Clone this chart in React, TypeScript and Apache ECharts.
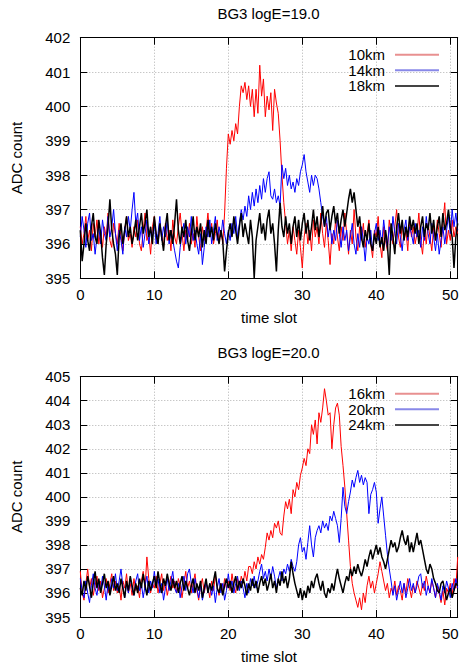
import React, { useEffect, useRef } from "react";
import * as echarts from "echarts";

// time step between samples (time slots)
const STEP = 0.25;
const TITLES = ["BG3 logE=19.0", "BG3 logE=20.0"];
const NAMES_TOP = ["10km", "14km", "18km"];
const NAMES_BOTTOM = ["16km", "20km", "24km"];

// ---------- logE = 19.0 ----------
const top10km = [
  396.5, 396.0, 396.3, 396.8, 396.1, 396.4, 395.8, 396.6, 396.2, 396.7, 396.0, 396.4, 395.9, 396.5, 396.2, 396.9, 396.1, 395.9, 396.6, 396.3,
  396.0, 396.6, 396.2, 395.8, 396.4, 396.8, 396.1, 396.3, 395.9, 396.5, 396.2, 396.7, 396.0, 395.8, 396.4, 396.9, 396.1, 396.3, 395.7, 396.5,
  396.8, 396.2, 396.0, 396.5, 396.3, 395.9, 396.6, 396.1, 396.4, 395.8, 396.7, 396.2, 396.0, 396.5, 396.9, 396.3, 395.8, 396.4, 396.1, 396.6,
  396.0, 396.3, 395.9, 396.8, 396.2, 395.8, 396.5, 396.1, 396.4, 396.9, 396.2, 396.6, 396.0, 396.3, 396.7, 396.1, 396.4, 396.0, 396.9, 398.2,
  399.2, 398.9, 399.3, 399.0, 399.5, 399.2, 400.0, 400.6, 400.4, 400.7, 400.2, 400.6, 400.0, 400.5, 399.7, 400.5, 399.8, 401.2, 400.3, 400.8,
  399.7, 400.3, 399.9, 400.4, 399.3, 400.5, 400.1, 399.8, 399.0, 398.0, 397.2, 396.6, 396.0, 396.4, 395.8, 396.5, 396.1, 395.7, 396.4, 395.9,
  395.3, 396.2, 396.6, 396.0, 396.4, 395.8, 396.7, 396.2, 396.5, 396.0, 396.9, 396.3, 395.9, 396.6, 396.1, 395.4, 396.3, 396.0, 396.7, 396.2,
  395.8, 396.5, 396.1, 396.9, 396.3, 395.7, 396.4, 396.0, 397.0, 396.2, 395.8, 396.5, 396.1, 396.6, 395.9, 396.3, 396.7, 396.0, 395.6, 396.4,
  396.2, 396.8, 396.0, 395.6, 396.5, 396.1, 395.8, 396.7, 396.3, 396.0, 396.5, 397.0, 396.2, 395.9, 396.6, 396.1, 396.4, 395.8, 396.7, 396.2,
  396.5, 396.0, 396.3, 396.9, 396.1, 395.7, 396.4, 396.0, 396.6, 396.2, 395.8, 396.5, 396.1, 396.7, 396.3, 395.9, 396.6, 397.2, 396.0, 396.4,
  396.1, 396.7, 396.2, 396.5, 396.3,
];
const top14km = [
  396.2, 396.8, 396.4, 395.9, 396.6, 396.9, 396.1, 396.3, 395.7, 396.2, 396.5, 396.0, 396.7, 396.3, 396.1, 396.8, 396.2, 396.5, 397.0, 396.3,
  395.8, 396.4, 396.1, 395.7, 396.5, 396.2, 396.8, 396.4, 397.0, 397.5, 396.6, 396.9, 396.1, 396.5, 395.9, 396.3, 396.7, 396.0, 396.4, 396.2,
  396.6, 396.0, 396.3, 396.8, 396.1, 396.5, 396.2, 396.7, 396.0, 396.4, 396.1, 395.8, 395.5, 395.3, 395.9, 396.3, 396.6, 396.0, 396.5, 396.2,
  396.8, 396.1, 396.4, 396.0, 395.7, 396.3, 395.4, 395.9, 396.5, 396.2, 396.7, 396.0, 396.4, 396.8, 396.1, 396.5, 396.2, 396.7, 396.3, 396.0,
  396.4, 396.1, 396.6, 396.3, 396.8, 396.2, 396.6, 397.0, 396.7, 397.1, 396.8, 397.4, 397.0, 397.5, 397.1, 397.6, 397.2, 397.7, 397.3, 397.9,
  397.5, 397.9, 398.1, 397.4, 397.3, 397.6, 397.2, 397.4, 397.1, 398.3, 397.9, 398.2, 397.7, 398.0, 397.6, 397.8, 397.5, 397.9, 397.7, 398.1,
  398.3, 398.6, 398.1, 397.8, 397.5, 398.0, 397.7, 398.0, 397.9, 397.6, 397.2, 396.8, 396.5, 396.8, 396.2, 396.6, 396.0, 396.4, 396.1, 396.7,
  396.3, 395.9, 396.5, 396.1, 396.4, 395.8, 396.2, 396.6, 396.0, 395.7, 396.3, 395.9, 396.5, 396.1, 395.5, 396.2, 396.0, 396.4, 395.8, 396.3,
  396.6, 396.1, 396.4, 396.0, 396.7, 396.2, 395.9, 396.5, 396.1, 396.8, 396.3, 396.0, 396.6, 396.2, 395.8, 396.4, 396.7, 396.1, 396.5, 396.3,
  396.0, 396.6, 396.2, 396.4, 395.9, 396.5, 396.1, 396.8, 396.3, 396.0, 396.6, 396.2, 395.8, 396.3, 395.7, 396.1, 396.5, 396.0, 396.4, 396.8,
  396.3, 397.0, 396.5, 396.9, 396.4,
];
const top18km = [
  396.4, 395.5, 396.0, 396.6, 396.1, 395.8, 396.5, 396.9, 396.2, 396.0, 396.7, 396.3, 395.6, 395.1, 396.0, 396.5, 397.3, 396.4, 396.0, 395.7,
  395.1, 396.2, 396.6, 396.0, 396.4, 396.8, 396.2, 396.5, 396.0, 396.3, 396.7, 396.1, 396.5, 396.9, 396.3, 396.6, 397.0, 396.2, 396.5, 396.0,
  396.8, 396.3, 396.0, 396.6, 396.2, 395.8, 396.5, 396.9, 396.1, 396.4, 396.0, 396.6, 397.3, 396.4, 396.0, 396.5, 396.2, 396.7, 396.1, 395.8,
  396.3, 396.8, 396.1, 396.5, 396.2, 396.6, 395.9, 396.4, 396.0, 396.7, 396.2, 396.5, 396.1, 396.6, 396.3, 396.0, 396.4, 396.1, 395.2, 395.8,
  396.3, 396.6, 396.2, 396.8, 396.4, 396.0, 396.5, 396.9, 396.2, 396.6, 396.3, 396.0, 396.7, 396.2, 395.0, 396.1, 396.5, 396.9, 396.3, 396.6,
  396.1, 396.7, 397.0, 396.3, 396.6, 396.0, 395.2, 396.4, 397.2, 396.5, 396.2, 396.8, 396.3, 396.6, 396.0, 396.5, 396.8, 396.2, 396.7, 396.1,
  396.6, 396.9, 396.3, 396.7, 396.1, 396.5, 397.0, 396.4, 396.8, 396.2, 396.6, 397.1, 396.5, 396.9, 397.0, 396.4, 396.8, 397.1, 396.6, 396.9,
  396.3, 396.7, 397.0, 396.5, 396.9, 397.3, 397.6, 397.2, 397.5, 397.0, 396.5, 396.8, 396.2, 395.9, 396.4, 396.1, 396.6, 396.0, 395.8, 396.3,
  396.0, 396.5, 395.9, 396.2, 395.8, 396.4, 396.0, 395.1, 396.6, 396.2, 395.7, 396.5, 396.9, 396.3, 396.7, 396.1, 396.5, 396.2, 396.8, 396.4,
  396.7, 396.3, 396.6, 396.0, 396.5, 396.8, 396.2, 396.6, 396.4, 396.9, 396.3, 396.7, 396.1, 396.5, 396.8, 396.2, 396.9, 396.4, 396.6, 397.0,
  396.5, 396.2, 395.3, 396.2, 396.6,
];

// ---------- logE = 20.0 ----------
const bot16km = [
  396.9, 396.0, 395.7, 396.4, 397.0, 396.2, 396.6, 395.9, 396.3, 396.7, 396.1, 396.5, 395.8, 396.2, 396.6, 396.0, 396.4, 396.8, 396.1, 396.5,
  396.0, 396.3, 395.7, 396.5, 396.2, 396.8, 396.0, 396.4, 395.9, 396.6, 396.1, 396.3, 395.8, 396.5, 396.9, 396.2, 397.5, 396.6, 396.0, 396.4,
  396.2, 396.7, 396.0, 396.4, 396.8, 396.1, 396.5, 395.9, 396.3, 396.7, 396.2, 396.5, 396.0, 396.6, 396.3, 395.8, 396.4, 396.9, 396.2, 396.5,
  396.0, 396.4, 396.8, 396.1, 395.7, 396.3, 396.6, 396.0, 396.4, 396.2, 395.8, 396.5, 396.1, 396.7, 396.3, 395.9, 396.4, 396.0, 396.6, 396.2,
  396.5, 396.1, 396.8, 396.3, 396.0, 396.6, 396.2, 396.7, 396.4, 396.9, 396.5, 397.1, 397.1, 396.8, 397.3, 397.0, 397.5, 397.2, 397.6, 397.4,
  397.9, 398.5, 398.2, 398.6, 398.3, 398.9, 398.7, 399.0, 398.5, 398.4, 399.2, 399.8, 399.5, 399.9, 399.3, 400.3, 400.0, 400.6, 400.3, 400.9,
  401.2, 401.6, 401.3, 402.0, 401.8, 403.0, 402.6, 403.2, 402.2, 403.5, 403.1, 403.7, 404.5, 404.0, 403.4, 403.5, 402.0, 403.0, 403.7, 403.9,
  403.4, 402.1, 401.3, 400.4, 399.3, 398.2, 397.1, 396.4, 396.0, 395.7, 395.4, 395.8, 395.3, 396.0, 395.6, 396.3, 396.7, 396.2, 396.5, 396.0,
  396.4, 396.8, 397.3, 396.9, 396.5, 396.1, 396.4, 395.8, 396.2, 396.0, 396.5, 395.9, 396.3, 396.1, 395.7, 396.4, 396.0, 396.6, 396.2, 395.8,
  396.3, 396.0, 396.5, 396.2, 395.9, 396.4, 396.1, 396.7, 396.3, 396.0, 396.5, 396.2, 395.8, 396.3, 396.0, 395.6, 396.1, 395.5, 396.2, 396.0,
  396.4, 395.9, 396.6, 396.2, 397.5,
];
const bot20km = [
  396.6, 396.1, 395.8, 396.5, 396.0, 395.6, 396.3, 396.8, 396.2, 395.9, 396.5, 396.1, 396.7, 396.3, 395.7, 396.4, 396.0, 396.6, 396.2, 396.8,
  396.1, 396.5, 397.0, 396.3, 395.8, 396.4, 396.0, 396.6, 396.2, 395.9, 396.5, 396.8, 396.1, 396.4, 395.8, 396.3, 396.7, 396.0, 396.5, 396.2,
  396.9, 396.3, 396.6, 396.0, 396.4, 395.7, 396.2, 396.6, 396.1, 396.5, 396.9, 396.2, 396.0, 396.4, 395.8, 396.3, 396.7, 396.1, 396.8, 397.0,
  396.4, 396.0, 396.6, 396.2, 395.8, 396.3, 395.7, 396.1, 396.5, 396.0, 396.4, 395.9, 396.3, 395.6, 396.2, 396.6, 396.0, 396.4, 395.7, 396.1,
  396.8, 396.2, 396.5, 396.0, 396.4, 396.7, 396.1, 396.5, 396.2, 395.8, 396.4, 396.0, 396.6, 396.3, 396.7, 396.2, 396.5, 396.9, 397.2, 396.6,
  396.9, 396.5, 397.0, 396.6, 397.1, 396.7, 396.2, 396.6, 396.9, 396.5, 397.0, 396.8, 397.2, 396.9, 397.4, 397.1, 396.9, 397.3, 398.0, 398.3,
  397.7, 397.9, 397.4, 398.1, 398.8, 398.0, 397.5, 398.3, 398.6, 398.8, 398.5, 399.0, 398.7, 398.9, 398.6, 399.2, 399.0, 399.4, 399.1, 398.8,
  398.1, 399.1, 400.4, 399.6, 399.3, 399.8, 400.2, 400.7, 400.4, 400.8, 401.1, 400.6, 400.9, 400.5, 400.8, 400.6, 399.3, 400.1, 400.3, 400.6,
  400.2, 398.9, 399.5, 400.0, 399.2, 398.4, 397.6, 397.0, 396.5, 395.9, 396.3, 395.7, 396.1, 396.5, 396.0, 396.4, 395.8, 396.2, 396.6, 396.1,
  396.4, 396.0, 396.3, 396.7, 396.8, 396.2, 396.5, 395.9, 396.3, 396.0, 396.6, 396.2, 395.8, 396.4, 396.1, 395.7, 396.3, 396.0, 396.5, 396.2,
  395.8, 396.4, 396.1, 396.6, 396.2,
];
const bot24km = [
  396.2, 395.9, 396.5, 396.1, 396.7, 396.3, 395.8, 396.4, 396.9, 396.2, 396.6, 396.0, 396.4, 396.8, 396.2, 396.5, 395.9, 396.3, 396.7, 396.1,
  396.4, 396.0, 396.6, 396.2, 395.8, 396.5, 396.1, 396.7, 396.3, 395.9, 396.4, 396.0, 396.6, 396.2, 396.8, 396.3, 395.9, 396.5, 396.1, 396.4,
  396.7, 396.2, 396.9, 396.4, 396.0, 396.6, 396.3, 396.8, 396.4, 396.1, 396.6, 396.2, 396.5, 396.0, 396.4, 396.7, 396.1, 396.5, 396.2, 395.9,
  396.3, 396.6, 396.0, 396.4, 396.1, 396.5, 395.8, 396.2, 396.6, 396.0, 396.4, 396.1, 396.5, 396.9, 396.2, 396.0, 396.4, 395.9, 396.3, 396.6,
  396.2, 396.5, 396.0, 396.4, 396.7, 396.1, 396.5, 396.2, 396.6, 396.3, 395.9, 396.4, 396.1, 396.6, 396.2, 396.5, 396.0, 396.4, 396.7, 396.3,
  396.6, 396.1, 396.4, 396.8, 396.2, 396.5, 396.0, 396.6, 396.3, 396.9, 396.4, 396.7, 396.2, 396.6, 397.3, 396.8, 396.4, 396.1, 395.8, 396.2,
  395.7, 396.1, 395.8, 396.3, 396.0, 396.5, 396.2, 396.6, 396.8, 396.4, 396.1, 396.5, 396.0, 395.8, 396.2, 396.0, 396.4, 396.1, 396.6, 397.0,
  396.6, 396.3, 396.0, 396.4, 396.7, 396.5, 397.0, 396.7, 397.1, 396.8, 397.2, 396.9, 396.7, 397.0, 397.4, 397.1, 397.5, 397.8, 397.4, 397.7,
  398.0, 397.6, 397.9, 397.5, 397.3, 397.0, 397.4, 397.8, 398.2, 397.9, 398.1, 397.7, 397.9, 398.3, 398.6, 398.2, 398.0, 398.4, 397.7, 398.1,
  397.7, 398.1, 398.5, 398.0, 398.2, 397.8, 397.4, 397.0, 396.8, 397.2, 397.0, 396.6, 396.4, 396.1, 396.0, 396.4, 396.5, 396.1, 395.7, 396.0,
  396.2, 395.8, 396.1, 396.4, 396.3,
];

const X_MIN = 0;
const X_MAX = 51;
const X_INTERVAL = 10;
const Y_RANGES = [
  [395, 402],
  [395, 405],
];

const FONT = "'Liberation Sans', Arial, Helvetica, sans-serif";
const COLORS = ["#ff0000", "#0000ff", "#000000"];
const LEGEND_COLORS = ["#e89090", "#8888e8", "#444444"];
const WIDTHS = [1, 1, 1.5];

const GRIDS = [
  { left: 80.3, top: 37.7, width: 377.4, height: 240.6 },
  { left: 80.3, top: 376.7, width: 377.4, height: 240.6 },
];

function toPairs(vals: number[]) {
  return vals.map((v, i) => [i * STEP, v]);
}

function buildOption() {
  const xAxis: any[] = [];
  const yAxis: any[] = [];
  GRIDS.forEach((_, g) => {
    const common = {
      type: "value",
      gridIndex: g,
      min: X_MIN,
      max: X_MAX,
      interval: X_INTERVAL,
      axisLine: { show: true, onZero: false, lineStyle: { color: "#000", width: 1 } },
      axisTick: { show: true, inside: true, length: 7, lineStyle: { color: "#000", width: 1 } },
    };
    xAxis.push({
      ...common,
      position: "bottom",
      name: "time slot",
      nameLocation: "middle",
      nameGap: 32,
      nameTextStyle: { fontSize: 15, color: "#000", fontFamily: FONT },
      axisLabel: {
        fontSize: 15,
        color: "#000",
        fontFamily: FONT,
        margin: 9,
        formatter: (v: number) => (v % X_INTERVAL === 0 ? String(v) : ""),
      },
      splitLine: { show: true, lineStyle: { color: "#b0b0b0", width: 1, type: [1, 2] } },
    });
    xAxis.push({
      ...common,
      position: "top",
      axisLabel: { show: false },
      splitLine: { show: false },
    });
    const [ymin, ymax] = Y_RANGES[g];
    const ycommon = {
      type: "value",
      gridIndex: g,
      min: ymin,
      max: ymax,
      interval: 1,
      axisLine: { show: true, onZero: false, lineStyle: { color: "#000", width: 1 } },
      axisTick: { show: true, inside: true, length: 7, lineStyle: { color: "#000", width: 1 } },
    };
    yAxis.push({
      ...ycommon,
      position: "left",
      name: "ADC count",
      nameLocation: "middle",
      nameGap: 56,
      nameTextStyle: { fontSize: 15, color: "#000", fontFamily: FONT },
      axisLabel: { fontSize: 15, color: "#000", fontFamily: FONT, margin: 10 },
      splitLine: { show: true, lineStyle: { color: "#b0b0b0", width: 1, type: [1, 2] } },
    });
    yAxis.push({
      ...ycommon,
      position: "right",
      axisLabel: { show: false },
      splitLine: { show: false },
    });
  });

  const groups = [
    { names: NAMES_TOP, data: [top10km, top14km, top18km] },
    { names: NAMES_BOTTOM, data: [bot16km, bot20km, bot24km] },
  ];
  const series: any[] = [];
  groups.forEach((grp, g) => {
    grp.names.forEach((name, k) => {
      series.push({
        type: "line",
        name,
        xAxisIndex: g * 2,
        yAxisIndex: g * 2,
        data: toPairs(grp.data[k]),
        symbol: "none",
        smooth: false,
        lineStyle: { color: COLORS[k], width: WIDTHS[k] },
        itemStyle: { color: COLORS[k] },
        z: 2 + k,
      });
    });
  });

  const legend = groups.map((grp, g) => ({
    data: grp.names.map((n, k) => ({
      name: n,
      itemStyle: { color: LEGEND_COLORS[k] },
    })),
    orient: "vertical",
    align: "right",
    right: 18,
    top: GRIDS[g].top + 4.5,
    itemWidth: 44,
    itemHeight: 2,
    itemGap: 0.6,
    icon: "rect",
    selectedMode: false,
    textStyle: { fontSize: 15, lineHeight: 15, color: "#000", fontFamily: FONT, padding: [0, 5, 0, 0] },
  }));

  const graphic = TITLES.map((t, g) => ({
    type: "text",
    x: GRIDS[g].left + GRIDS[g].width / 2 - 0.5,
    y: GRIDS[g].top - 24,
    style: {
      text: t,
      fill: "#000",
      fontSize: 15,
      fontFamily: FONT,
      align: "center",
      verticalAlign: "middle",
    },
  }));

  return {
    animation: false,
    backgroundColor: "#fff",
    grid: GRIDS.map((g) => ({ ...g, containLabel: false })),
    xAxis,
    yAxis,
    legend,
    graphic,
    series,
  };
}

export default function App() {
  const ref = useRef<HTMLDivElement>(null);
  useEffect(() => {
    document.body.style.margin = "0";
    const chart = echarts.init(ref.current!, null, { renderer: "svg" });
    chart.setOption(buildOption() as any);
    return () => chart.dispose();
  }, []);
  return <div ref={ref} style={{ width: 462, height: 665 }} />;
}
